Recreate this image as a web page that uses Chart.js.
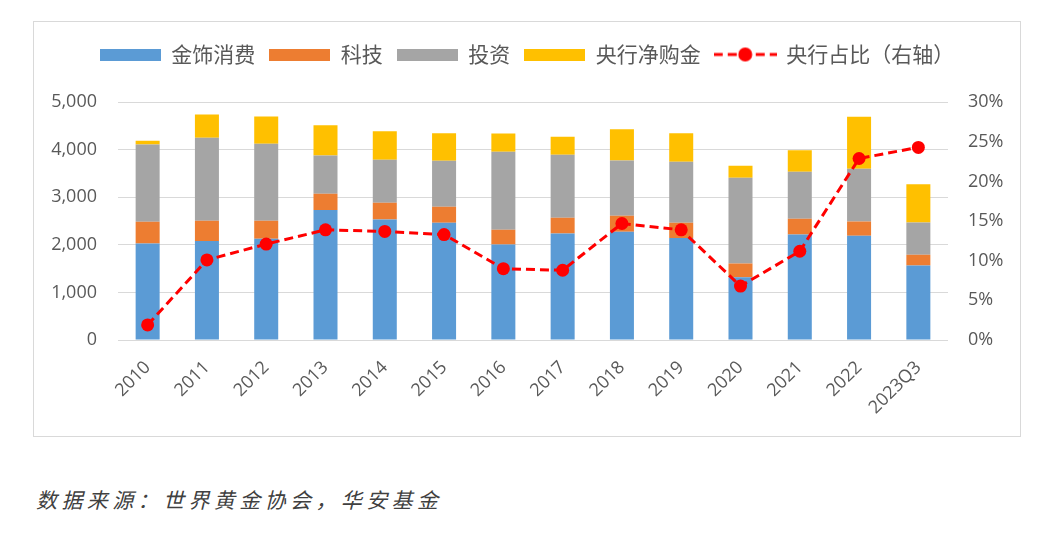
<!DOCTYPE html>
<html>
<head>
<meta charset="utf-8">
<script src="https://cdn.jsdelivr.net/npm/chart.js@4.4.1/dist/chart.umd.min.js"></script>
<style>
  body { margin: 0; background: #fff; width: 1059px; height: 541px; position: relative; overflow: hidden; }
  #box { position: absolute; left: 33px; top: 21px; width: 988px; height: 416px; border: 1px solid #d9d9d9; box-sizing: border-box; }
  #chart { display: block; }
  #source { position: absolute; left: 36px; top: 484px; font-family: "Noto Sans CJK SC", sans-serif; font-style: italic; font-size: 21px; letter-spacing: 4.4px; color: #404040; }
</style>
</head>
<body>
<div id="box"><canvas id="chart" width="986" height="414"></canvas></div>
<div id="source">数据来源：世界黄金协会，华安基金</div>
<script>
// categories and series (tonnes, share in %)
const years = ['2010', '2011', '2012', '2013', '2014', '2015', '2016', '2017', '2018', '2019', '2020', '2021', '2022', '2023Q3'];
const jewelry = [2031, 2080, 2129, 2731, 2535, 2465, 2010, 2241, 2276, 2143, 1317, 2220, 2192, 1569];
const tech = [455, 427, 378, 343, 350, 336, 308, 329, 336, 322, 294, 329, 301, 224];
const invest = [1625, 1744, 1618, 806, 903, 967, 1639, 1324, 1163, 1282, 1799, 987, 1106, 679];
const cbBuy = [77, 490, 574, 637, 603, 581, 385, 378, 658, 602, 252, 456, 1093, 805];
const cbShare = [1.9, 10.1, 12.1, 13.9, 13.7, 13.3, 9.0, 8.8, 14.7, 13.9, 6.8, 11.2, 22.9, 24.3];
const leftTicks = [0, 1000, 2000, 3000, 4000, 5000];
const rightTicks = [0, 5, 10, 15, 20, 25, 30];

const colors = ['#5B9BD5', '#ED7D31', '#A5A5A5', '#FFC000', '#FF0000'];
const labels = ['金饰消费', '科技', '投资', '央行净购金', '央行占比（右轴）'];
const textColor = '#595959';

// legend swatches
function swatch(color) {
  const c = document.createElement('canvas');
  c.width = 61; c.height = 12;
  const g = c.getContext('2d');
  g.fillStyle = color;
  g.fillRect(0, 0, 61, 12);
  return c;
}
function lineSwatch(color) {
  const c = document.createElement('canvas');
  c.width = 63; c.height = 16;
  const g = c.getContext('2d');
  g.strokeStyle = color;
  g.lineWidth = 3;
  g.setLineDash([9, 5]);
  g.beginPath();
  g.moveTo(0, 8); g.lineTo(63, 8);
  g.stroke();
  g.fillStyle = color;
  g.beginPath();
  g.arc(31.5, 8, 7, 0, Math.PI * 2);
  g.fill();
  return c;
}

const barSets = [jewelry, tech, invest, cbBuy].map((d, i) => ({
  type: 'bar',
  label: labels[i],
  data: d,
  backgroundColor: colors[i],
  borderWidth: 0,
  yAxisID: 'y',
  stack: 's',
  order: 1,
  barPercentage: 0.405,
  categoryPercentage: 1
}));

new Chart(document.getElementById('chart'), {
  data: {
    labels: years,
    datasets: [...barSets, {
      type: 'line',
      label: labels[4],
      data: cbShare,
      yAxisID: 'y1',
      borderColor: colors[4],
      backgroundColor: colors[4],
      borderWidth: 3,
      borderDash: [9, 5],
      pointRadius: 6.5,
      pointBorderWidth: 0,
      tension: 0,
      order: 0
    }]
  },
  options: {
    responsive: false,
    animation: false,
    layout: { padding: { top: 8, left: 0, right: 0, bottom: 0 } },
    plugins: {
      tooltip: { enabled: false },
      // empty title used as spacer between legend and plot
      title: { display: true, text: '', font: { size: 1 }, padding: { top: 0, bottom: 26 } },
      legend: {
        position: 'top',
        weight: 3000,
        labels: {
          usePointStyle: true,
          pointStyleWidth: 61,
          padding: 14,
          color: textColor,
          font: { family: '"Noto Sans CJK SC", sans-serif', size: 21 },
          generateLabels: () => labels.map((t, i) => ({
            text: t,
            datasetIndex: i,
            pointStyle: i < 4 ? swatch(colors[i]) : lineSwatch(colors[i]),
            fillStyle: colors[i],
            strokeStyle: colors[i],
            lineWidth: 0,
            fontColor: textColor,
            hidden: false
          }))
        }
      }
    },
    scales: {
      x: {
        stacked: true,
        grid: { display: false, drawTicks: false },
        border: { display: false },
        ticks: { color: textColor, font: { family: '"Open Sans"', size: 18 }, minRotation: 45, maxRotation: 45, padding: 17 },
        afterFit: s => { s.height = 96; }
      },
      y: {
        stacked: true,
        position: 'left',
        min: 0, max: 5000,
        afterBuildTicks: s => { s.ticks = leftTicks.map(v => ({ value: v })); },
        grid: { color: '#d9d9d9', lineWidth: 1, drawTicks: false },
        border: { display: false },
        ticks: { color: textColor, font: { family: '"Open Sans"', size: 18 }, padding: 21,
          callback: v => v.toLocaleString('en-US') },
        afterFit: s => { s.width = 84; }
      },
      y1: {
        position: 'right',
        min: 0, max: 30,
        afterBuildTicks: s => { s.ticks = rightTicks.map(v => ({ value: v })); },
        grid: { display: false, drawTicks: false },
        border: { display: false },
        ticks: { color: textColor, font: { family: '"Open Sans"', size: 18 }, padding: 20,
          callback: v => v + '%' },
        afterFit: s => { s.width = 72; }
      }
    }
  }
});
</script>
</body>
</html>
